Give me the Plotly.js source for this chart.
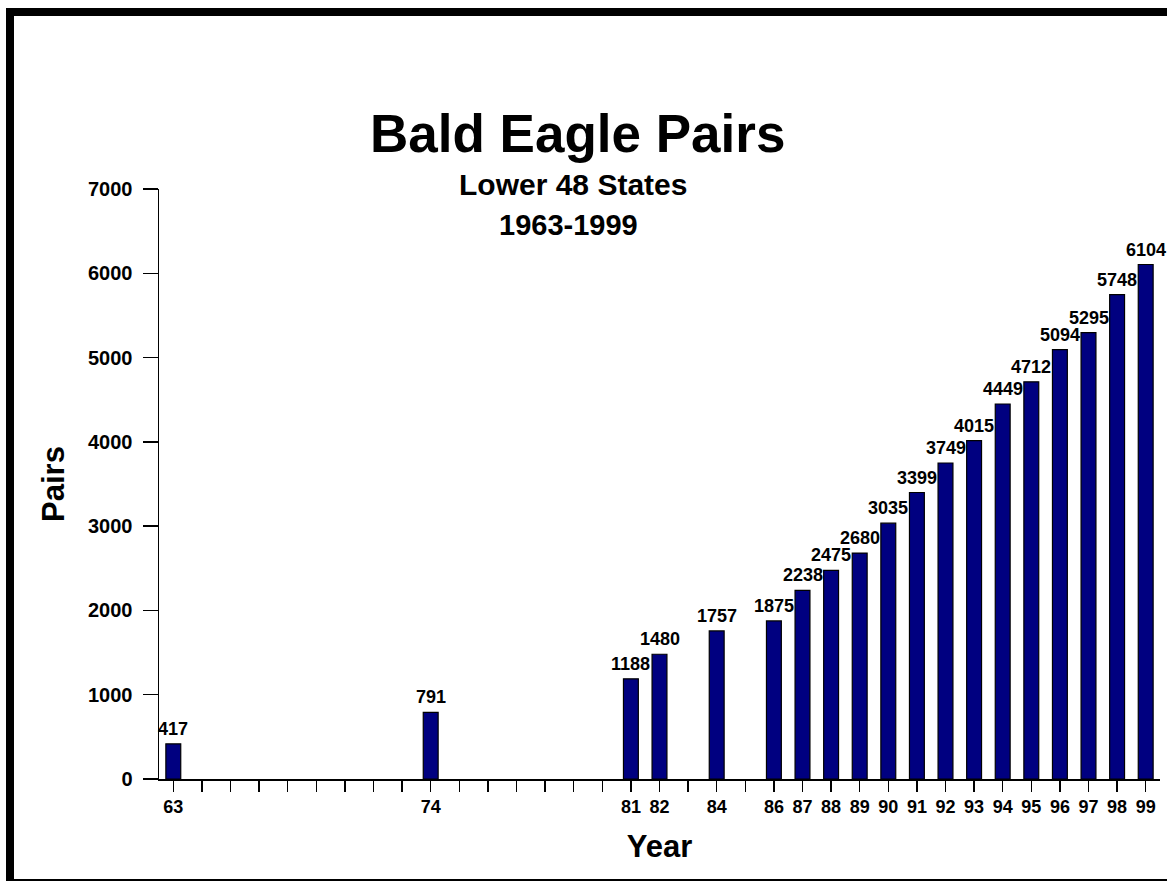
<!DOCTYPE html>
<html>
<head>
<meta charset="utf-8">
<script src="https://cdn.plot.ly/plotly-3.0.1.min.js"></script>
<style>
  html, body { margin: 0; padding: 0; background: #fff; overflow: hidden; }
  #chart { width: 1167px; height: 881px; position: absolute; left: 0; top: 0; }
  #frame { position: absolute; left: 6px; top: 8px; width: 1170px; height: 863px;
           border-left: 8px solid #000; border-top: 8px solid #000; border-bottom: 2px solid #000;
           pointer-events: none; }
</style>
</head>
<body>
<div id="chart"></div>
<div id="frame"></div>
<script>
// Axis slots as drawn in the original (tick labels; blank = unlabelled tick)
const slotLabels = ['63','','','','','','','','','74','','','','','','','81','82','','84','','86','87','88','89','90','91','92','93','94','95','96','97','98','99'];
// Data
const years = ['63','74','81','82','84','86','87','88','89','90','91','92','93','94','95','96','97','98','99'];
const pairs = [417, 791, 1188, 1480, 1757, 1875, 2238, 2475, 2680, 3035, 3399, 3749, 4015, 4449, 4712, 5094, 5295, 5748, 6104];
const titleText = 'Bald Eagle Pairs';
const subtitleLines = ['Lower 48 States', '1963-1999'];
const yTicks = [0, 1000, 2000, 3000, 4000, 5000, 6000, 7000];

const slotIdx = slotLabels.map((_, i) => i);
const xPos = years.map(y => slotLabels.indexOf(y));

const F = '"Liberation Sans", Arial, Helvetica, sans-serif';

const trace = {
  type: 'bar',
  x: xPos,
  y: pairs,
  width: 0.52,
  marker: { color: '#000080', line: { color: '#000', width: 1.2 } },
  hoverinfo: 'x+y'
};

const labelAnns = pairs.map((v, i) => ({
  x: xPos[i], y: v, xref: 'x', yref: 'y', text: String(v), showarrow: false,
  yanchor: 'bottom', yshift: 3,
  font: { family: F, size: 18, color: '#000', weight: 'bold' }
}));

const titleAnns = [
  { text: '<b>' + titleText + '</b>', x: 0.4176, y: 1.0949, xref: 'paper', yref: 'paper',
    xanchor: 'center', yanchor: 'middle', showarrow: false,
    font: { family: F, size: 53, color: '#000' } },
  { text: '<b>' + subtitleLines[0] + '</b>', x: 0.4136, y: 1.0076, xref: 'paper', yref: 'paper',
    xanchor: 'center', yanchor: 'middle', showarrow: false,
    font: { family: F, size: 30, color: '#000' } },
  { text: '<b>' + subtitleLines[1] + '</b>', x: 0.409, y: 0.939, xref: 'paper', yref: 'paper',
    xanchor: 'center', yanchor: 'middle', showarrow: false,
    font: { family: F, size: 29, color: '#000' } }
];

const layout = {
  width: 1167, height: 881,
  margin: { l: 159, r: 7, t: 189, b: 102, pad: 0 },
  paper_bgcolor: '#fff', plot_bgcolor: '#fff',
  showlegend: false,
  xaxis: {
    range: [-0.5, 34.5],
    tickmode: 'array', tickvals: slotIdx, ticktext: slotLabels,
    ticks: 'outside', ticklen: 11, tickwidth: 1.5, tickcolor: '#000',
    showline: true, linecolor: '#000', linewidth: 1.5,
    showgrid: false, zeroline: false,
    tickfont: { family: F, size: 18, color: '#000', weight: 'bold' },
    title: { text: '<b>Year</b>', font: { family: F, size: 31, color: '#000' }, standoff: 19 }
  },
  yaxis: {
    range: [0, 7000],
    tickmode: 'array', tickvals: yTicks, ticktext: yTicks.map(String),
    ticks: 'outside', ticklen: 15, tickwidth: 1.5, tickcolor: '#000',
    showline: true, linecolor: '#000', linewidth: 1.5,
    showgrid: false, zeroline: false,
    tickfont: { family: F, size: 20, color: '#000', weight: 'bold' },
    ticklabelstandoff: 6,
    title: { text: '<b>Pairs</b>', font: { family: F, size: 31, color: '#000' }, standoff: 14 }
  },
  annotations: labelAnns.concat(titleAnns)
};

Plotly.newPlot('chart', [trace], layout, { displayModeBar: false, staticPlot: true });
</script>
</body>
</html>
